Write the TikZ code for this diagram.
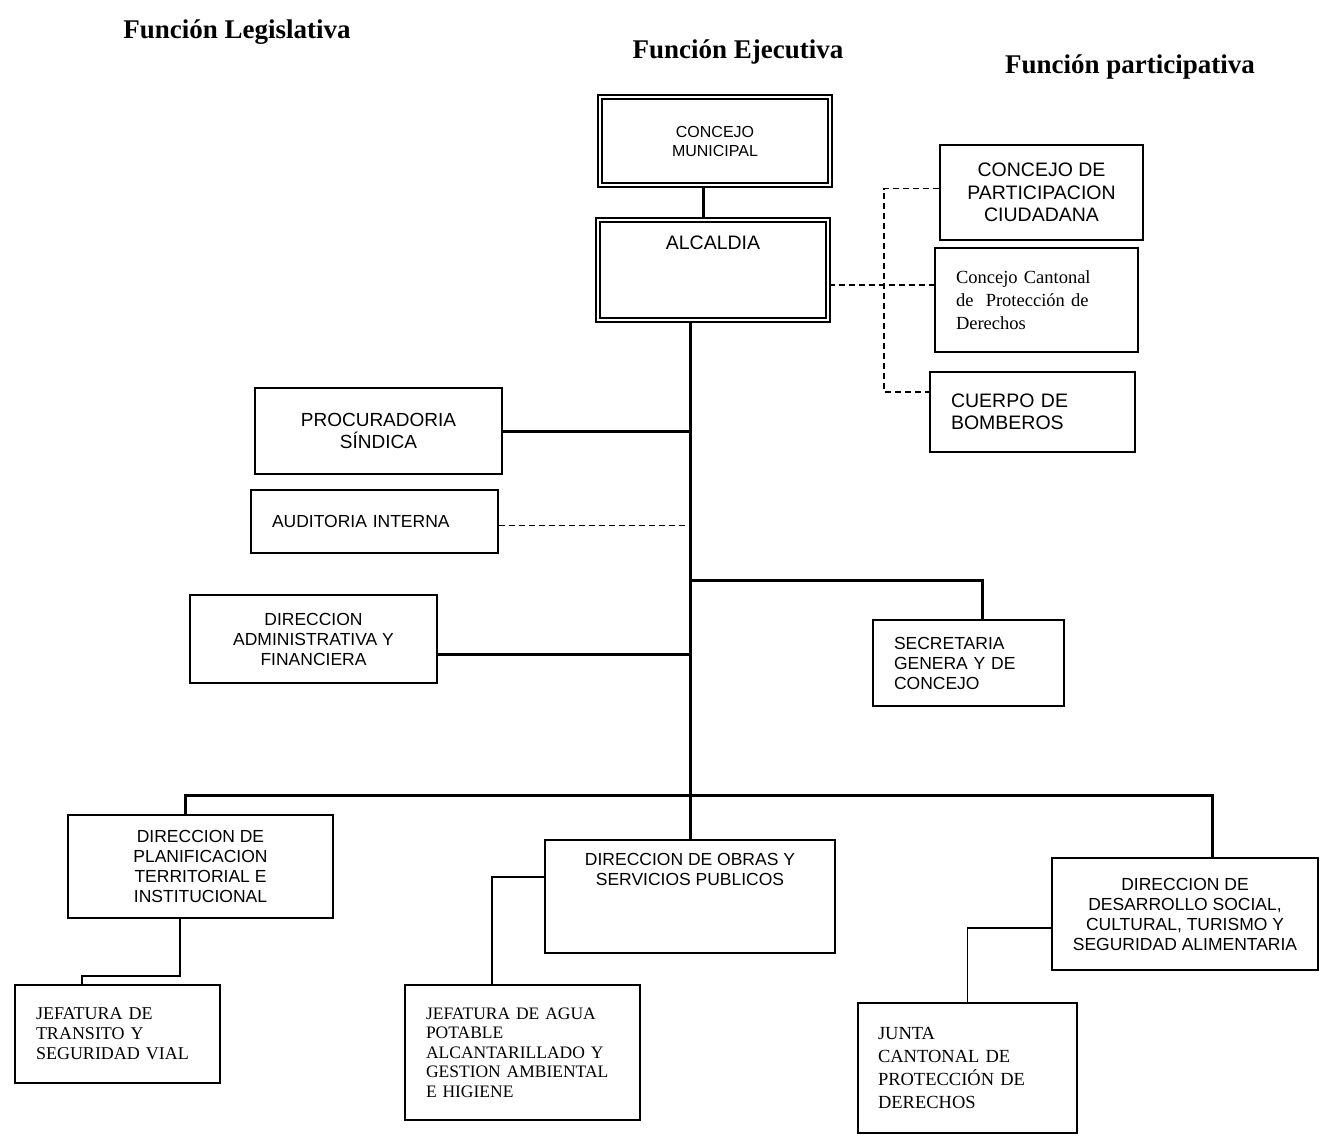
\documentclass[tikz,border=0pt]{standalone}
\usepackage{fontspec}
\setmainfont{Liberation Serif}
\newfontfamily\sansf{Liberation Sans}
\begin{document}
\begin{tikzpicture}[x=1pt,y=-1pt,
  box/.style={draw, line width=1.6pt, inner sep=0pt, align=center, fill=white},
  dbox/.style={box, double, double distance=2.6pt, line width=1.3pt},
  sfa/.style={font=\sansf\fontsize{17.5}{20}\selectfont},
  sfb/.style={font=\sansf\fontsize{19.5}{22.5}\selectfont},
  rma/.style={font=\fontsize{18}{20}\selectfont},
  rmb/.style={font=\fontsize{18.5}{23}\selectfont},
  titlef/.style={font=\bfseries\fontsize{27}{30}\selectfont, inner sep=0pt},
  mainline/.style={line width=3pt},
  subline/.style={line width=1.5pt},
  dashline/.style={line width=1.5pt, dash pattern=on 6pt off 4pt}
]
\fill[white] (0,0) rectangle (1321,1135);
\useasboundingbox (0,0) rectangle (1321,1135);

% titles
\node[titlef] (tl) at (237,32) {Función Legislativa};
\node[titlef] (te) at (738,52) {Función Ejecutiva};
\node[titlef] (tp) at (1130,67) {Función participativa};

% executive column
\node[dbox, sfa, font=\sansf\fontsize{16}{19}\selectfont, minimum width=230, minimum height=88] (cm) at (715,141) {CONCEJO\\MUNICIPAL};
\node[dbox, minimum width=230, minimum height=100,
  label={[sfb, anchor=north, yshift=-16pt, inner sep=0pt]north:ALCALDIA}] (alc) at (713,270) {};

% participative column
\node[box, sfb, minimum width=203, minimum height=95] (cpc) at (1041.5,192.5) {CONCEJO DE\\PARTICIPACION\\CIUDADANA};
\node[box, rmb, minimum width=203, minimum height=104, text width=161, inner xsep=21, align=left] (ccp) at (1036.5,300) {Concejo Cantonal\\de\ \ Protección de\\Derechos};
\node[box, sfb, minimum width=205, minimum height=80, text width=163, inner xsep=21, align=left] (cb) at (1032.5,412) {CUERPO DE\\BOMBEROS};

% left staff units
\node[box, font=\sansf\fontsize{19}{22}\selectfont, minimum width=247, minimum height=86] (ps) at (378.5,431) {PROCURADORIA\\SÍNDICA};
\node[box, sfa, minimum width=247, minimum height=63, text width=205, inner xsep=21, align=left] (ai) at (374.5,521.5) {AUDITORIA INTERNA\\[4pt]};
\node[box, sfa, minimum width=247, minimum height=88] (daf) at (313.5,639) {DIRECCION\\ADMINISTRATIVA Y\\FINANCIERA};
\node[box, sfa, minimum width=191, minimum height=86, text width=149, inner xsep=21, align=left] (sg) at (968.5,663) {SECRETARIA\\GENERA Y DE\\CONCEJO};

% directions
\node[box, sfa, minimum width=265, minimum height=103] (dpt) at (200.5,866.5) {DIRECCION DE\\PLANIFICACION\\TERRITORIAL E\\INSTITUCIONAL};
\node[box, minimum width=290, minimum height=113,
  label={[sfa, anchor=north, yshift=-14pt, inner sep=0pt, align=center]north:DIRECCION DE OBRAS Y\\SERVICIOS PUBLICOS}] (dos) at (690,896.5) {};
\node[box, sfa, minimum width=266, minimum height=112] (dds) at (1185,914) {DIRECCION DE\\DESARROLLO SOCIAL,\\CULTURAL, TURISMO Y\\SEGURIDAD ALIMENTARIA};

% jefaturas
\node[box, rma, minimum width=205, minimum height=98, text width=163, inner xsep=21, align=left] (jtsv) at (117.5,1034) {JEFATURA DE\\TRANSITO Y\\SEGURIDAD VIAL\\[8pt]};
\node[box, font=\fontsize{17.5}{19.5}\selectfont, minimum width=235, minimum height=135, text width=193, inner xsep=21, align=left] (jag) at (522.5,1052.5) {JEFATURA DE AGUA\\POTABLE\\ALCANTARILLADO Y\\GESTION AMBIENTAL\\E HIGIENE};
\node[box, rmb, minimum width=219, minimum height=130, text width=179, inner xsep=20, align=left] (jcpd) at (967.5,1068) {JUNTA\\CANTONAL DE\\PROTECCIÓN DE\\DERECHOS\\[8pt]};

% coordinates
\coordinate (tr) at (690,0);
\coordinate (j1) at (690,580);
\coordinate (bar) at (690,795);
\coordinate (dv) at (884,0);

% main connectors
\draw[mainline] ([xshift=-12pt]cm.south) -- ([xshift=-10pt]alc.north);
\draw[mainline] (alc.south -| tr) -- (dos.north -| tr);
\draw[mainline] (ps.east) -- (ps.east -| tr);
\draw[dashline] ([yshift=-4pt]ai.east) -- ([yshift=-4pt]ai.east -| tr);
\draw[mainline] ([yshift=-15pt]daf.east) -- ([yshift=-15pt]daf.east -| tr);
\draw[mainline] (j1) -| ([xshift=14pt]sg.north);
\draw[mainline] ([xshift=-15.5pt]dpt.north) |- (bar) -| ([xshift=27pt]dds.north);

% sub connectors
\draw[subline] ([xshift=-20.5pt]dpt.south) -- ++(0,57) -| ([xshift=-35.5pt]jtsv.north);
\draw[subline] ([yshift=19.5pt]dos.west) -| ([xshift=-30.5pt]jag.north);
\draw[subline] ([yshift=-14pt]dds.west) -| (jcpd.north);

% participative dashed connectors
\draw[dashline] ([yshift=-15pt]alc.east) -- ([yshift=-15pt]alc.east -| ccp.west);
\draw[dashline] ([yshift=4pt]cpc.west) -- ([yshift=4pt]cpc.west -| dv) -- ([yshift=20pt]cb.west -| dv) -- ([yshift=20pt]cb.west);
\end{tikzpicture}
\end{document}
